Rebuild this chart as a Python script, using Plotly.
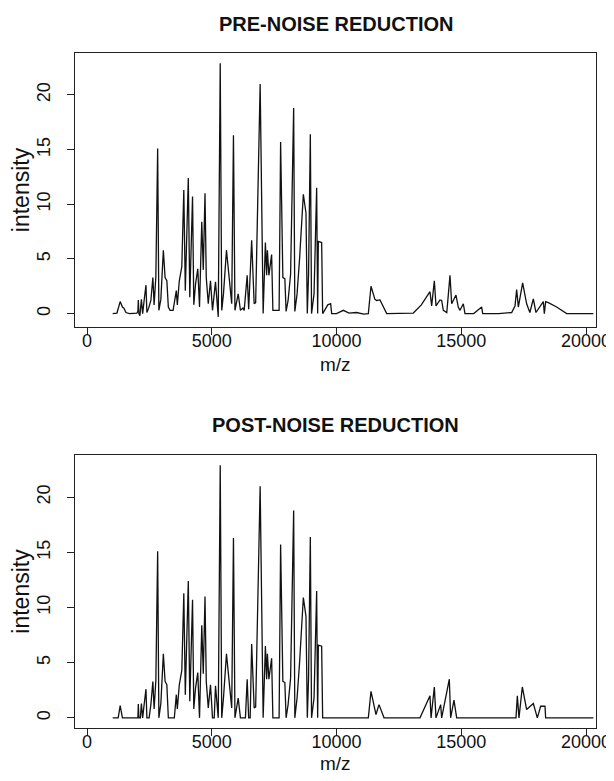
import plotly.graph_objects as go

# ---- data (m/z, intensity) ----
pre_mz = [1030, 1200, 1330, 1420, 1480, 1560, 1700, 1900, 2000, 2040,
          2057, 2080, 2120, 2180, 2230, 2300, 2364, 2400, 2470, 2560,
          2640, 2690, 2760, 2832, 2880, 2960, 3060, 3130, 3200, 3260,
          3330, 3450, 3580, 3620, 3700, 3800, 3880, 3940, 4060, 4120,
          4230, 4280, 4350, 4440, 4510, 4600, 4660, 4730, 4780, 4860,
          4950, 5030, 5150, 5260, 5340, 5400, 5470, 5590, 5700, 5800,
          5870, 5930, 6060, 6150, 6250, 6300, 6420, 6480, 6600, 6700,
          6760, 6940, 7060, 7150, 7200, 7230, 7290, 7400, 7450, 7600,
          7700, 7760, 7850, 7930, 7980, 8060, 8160, 8283, 8330, 8420,
          8520, 8671, 8777, 8830, 8880, 8951, 9000, 9100, 9205, 9245,
          9272, 9405, 9445, 9500, 9650, 9766, 9806, 10000, 10274, 10500,
          10800, 11100, 11276, 11383, 11540, 11610, 11744, 12011, 12500, 13079,
          13400, 13747, 13814, 13921, 13988, 14148, 14215, 14282, 14420, 14549,
          14616, 14789, 14880, 14950, 15083, 15150, 15500, 15818, 15860, 16500,
          17021, 17154, 17221, 17288, 17461, 17621, 17750, 17889, 17995, 18289,
          18330, 18383, 18490, 18824, 19225, 20294]
pre_intensity = [0.0, 0.05, 1.1, 0.6, 0.5, 0.1, 0.0, 0.0, 0.05, 0.2,
                 1.25, 0.0, -0.2, 1.3, 0.0, 1.4, 2.6, 0.1, 0.5, 1.2,
                 3.3, 0.8, 3.4, 15.1, 0.3, 1.3, 5.8, 3.3, 3.0, 0.6,
                 0.3, 0.3, 2.1, 0.8, 3.0, 4.3, 11.3, 2.1, 12.4, 1.5,
                 10.7, 0.8, 2.7, 4.1, 0.6, 8.4, 4.0, 11.0, 3.3, 0.9,
                 3.0, 0.3, 2.9, -0.3, 22.9, 0.3, 1.8, 5.8, 3.0, 0.9,
                 16.3, 0.3, 1.8, 0.3, 0.5, 0.3, 3.5, 0.4, 6.7, 0.9,
                 1.0, 21.0, 0.0, 6.5, 3.5, 5.8, 3.5, 5.4, 0.3, 0.3,
                 0.3, 15.7, 3.3, 3.2, 0.2, 1.2, 3.6, 18.8, 0.2, 1.8,
                 5.0, 10.9, 9.2, 0.0, 3.6, 16.4, 0.0, 1.8, 11.5, 0.0,
                 6.6, 6.5, 0.0, 0.2, 0.8, 0.9, 0.0, 0.0, 0.3, 0.05,
                 0.1, -0.05, 0.0, 2.5, 1.3, 1.2, 1.25, 0.0, 0.0, 0.05,
                 0.8, 2.0, 0.7, 3.0, 0.7, 1.25, 1.2, 0.3, 0.1, 3.5,
                 0.9, 1.7, 0.6, 0.3, 0.9, 0.0, 0.0, 0.6, 0.0, 0.0,
                 0.1, 0.7, 2.2, 0.6, 2.8, 0.9, 0.1, 1.35, 0.1, 1.1,
                 0.0, 1.1, 1.0, 0.6, 0.0, 0.0]

post_mz = [1030, 1250, 1330, 1420, 2040, 2057, 2080, 2140, 2180, 2230,
           2300, 2364, 2400, 2490, 2560, 2640, 2690, 2760, 2832, 2880,
           2960, 3060, 3130, 3200, 3260, 3500, 3580, 3620, 3700, 3800,
           3880, 3940, 4060, 4120, 4230, 4280, 4350, 4440, 4510, 4600,
           4660, 4730, 4780, 4860, 4950, 5030, 5100, 5150, 5260, 5340,
           5400, 5470, 5590, 5700, 5800, 5870, 5930, 6060, 6150, 6350,
           6420, 6480, 6540, 6600, 6700, 6760, 6940, 7060, 7150, 7200,
           7230, 7290, 7400, 7450, 7700, 7760, 7850, 7930, 7980, 8060,
           8160, 8283, 8330, 8420, 8520, 8671, 8777, 8830, 8880, 8951,
           9000, 9100, 9205, 9245, 9272, 9405, 9445, 11276, 11383, 11583,
           11703, 11904, 13347, 13747, 13790, 13921, 13988, 14175, 14215, 14522,
           14575, 14709, 14816, 17194, 17248, 17314, 17448, 17621, 17889, 18049,
           18183, 18356, 18383, 20294]
post_intensity = [0.0, 0.0, 1.1, 0.0, 0.0, 1.25, 0.0, 0.0, 1.3, 0.0,
                  1.4, 2.6, 0.0, 0.0, 1.2, 3.3, 0.8, 3.4, 15.1, 0.0,
                  1.3, 5.8, 3.3, 3.0, 0.0, 0.0, 2.1, 0.8, 3.0, 4.3,
                  11.3, 2.1, 12.4, 1.5, 10.7, 0.8, 2.7, 4.1, 0.0, 8.4,
                  4.0, 11.0, 3.3, 0.9, 3.0, 0.0, 0.0, 2.9, 0.0, 22.9,
                  0.0, 1.8, 5.8, 3.0, 0.9, 16.3, 0.0, 1.8, 0.0, 0.0,
                  3.5, 0.0, 0.0, 6.7, 0.9, 1.0, 21.0, 0.0, 6.5, 3.5,
                  5.8, 3.5, 5.4, 0.0, 0.0, 15.7, 3.3, 3.2, 0.0, 1.2,
                  3.6, 18.8, 0.0, 1.8, 5.0, 10.9, 9.2, 0.0, 3.6, 16.4,
                  0.0, 1.8, 11.5, 0.0, 6.6, 6.5, 0.0, 0.0, 2.4, 0.3,
                  1.2, 0.0, 0.0, 2.0, 0.0, 2.8, 0.0, 1.2, 0.0, 3.5,
                  0.0, 1.6, 0.0, 0.0, 2.0, 0.0, 2.8, 0.75, 1.3, 0.0,
                  1.05, 1.05, 0.0, 0.0]

panel_titles = ["PRE-NOISE REDUCTION", "POST-NOISE REDUCTION"]
x_title = "m/z"
y_title = "intensity"
x_ticks = [0, 5000, 10000, 15000, 20000]
x_tick_labels = ["0", "5000", "10000", "15000", "20000"]
y_ticks = [0, 5, 10, 15, 20]
y_tick_labels = ["0", "5", "10", "15", "20"]

FONT = "Liberation Sans, Arial, sans-serif"
LINE = "#111111"

fig = go.Figure()
fig.add_trace(go.Scatter(x=pre_mz, y=pre_intensity, mode="lines",
                         line=dict(color=LINE, width=1.3),
                         xaxis="x", yaxis="y", showlegend=False))
fig.add_trace(go.Scatter(x=post_mz, y=post_intensity, mode="lines",
                         line=dict(color=LINE, width=1.3),
                         xaxis="x2", yaxis="y2", showlegend=False))

xcommon = dict(range=[-481, 20401], tickmode="array", tickvals=x_ticks,
               ticktext=x_tick_labels, automargin=False,
               ticks="outside", ticklen=7, tickwidth=1, tickcolor="#222",
               showline=True, linecolor="#222", linewidth=1.2, mirror=True,
               showgrid=False, zeroline=False,
               tickfont=dict(family=FONT, size=18, color="#111"),
               ticklabelstandoff=-10)
ycommon = dict(tickmode="array", tickvals=y_ticks, ticktext=y_tick_labels,
               tickangle=-90, automargin=False,
               ticks="outside", ticklen=7, tickwidth=1, tickcolor="#222",
               showline=True, linecolor="#222", linewidth=1.2, mirror=True,
               showgrid=False, zeroline=False,
               tickfont=dict(family=FONT, size=18, color="#111"),
               ticklabelstandoff=10,
               title=dict(text=y_title, font=dict(family=FONT, size=23, color="#111"),
                          standoff=0))

# the page body adds an 8 px offset; the figure is sized so the plot areas
# land at the reference positions inside the 614x781 window
fig.update_layout(
    width=606, height=773,
    margin=dict(l=67, r=18, t=45, b=53, autoexpand=False),
    paper_bgcolor="white", plot_bgcolor="white",
    xaxis=dict(domain=[0, 1], anchor="y", **xcommon),
    yaxis=dict(domain=[0.594, 1], anchor="x", range=[-1.23, 23.83], **ycommon),
    xaxis2=dict(domain=[0, 1], anchor="y2", **xcommon),
    yaxis2=dict(domain=[0, 0.4044], anchor="x2", range=[-0.92, 23.82], **ycommon),
    annotations=[
        dict(text="<b>%s</b>" % panel_titles[0], x=0.5, y=1.043, xref="paper", yref="paper",
             xanchor="center", yanchor="middle", showarrow=False,
             font=dict(family=FONT, size=20, color="#111")),
        dict(text="<b>%s</b>" % panel_titles[1], x=0.5, y=0.449, xref="paper", yref="paper",
             xanchor="center", yanchor="middle", showarrow=False,
             font=dict(family=FONT, size=20, color="#111")),
        dict(text=x_title, x=0.5, y=0.539, xref="paper", yref="paper",
             xanchor="center", yanchor="middle", showarrow=False,
             font=dict(family=FONT, size=19, color="#111")),
        dict(text=x_title, x=0.5, y=-0.053, xref="paper", yref="paper",
             xanchor="center", yanchor="middle", showarrow=False,
             font=dict(family=FONT, size=19, color="#111")),
    ],
)

fig.write_html("out.html")
